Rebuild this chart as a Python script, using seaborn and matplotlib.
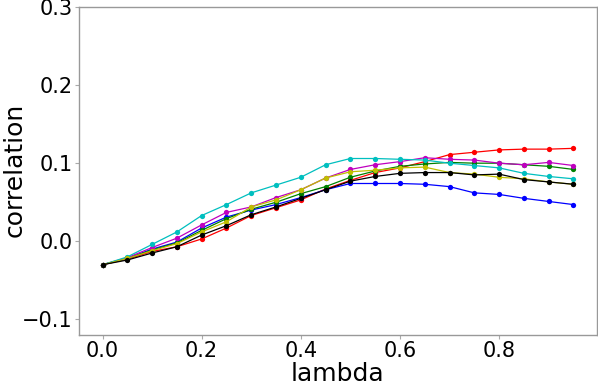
import numpy as np
import pandas as pd
import matplotlib
matplotlib.use("Agg")
import matplotlib.pyplot as plt
import seaborn as sns

lam = [0.0, 0.05, 0.10, 0.15, 0.20, 0.25, 0.30, 0.35, 0.40, 0.45,
       0.50, 0.55, 0.60, 0.65, 0.70, 0.75, 0.80, 0.85, 0.90, 0.95]

red = [-0.030, -0.023, -0.013, -0.007, 0.003, 0.017, 0.033, 0.043, 0.053, 0.067,
       0.078, 0.088, 0.094, 0.102, 0.111, 0.114, 0.117, 0.118, 0.118, 0.119]
blue = [-0.030, -0.022, -0.010, -0.001, 0.017, 0.031, 0.040, 0.047, 0.056, 0.066,
        0.074, 0.074, 0.074, 0.073, 0.070, 0.062, 0.060, 0.055, 0.051, 0.047]
green = [-0.030, -0.022, -0.011, -0.002, 0.014, 0.029, 0.041, 0.050, 0.061, 0.070,
         0.082, 0.090, 0.096, 0.099, 0.101, 0.100, 0.100, 0.098, 0.096, 0.092]
magenta = [-0.030, -0.021, -0.008, 0.004, 0.021, 0.037, 0.044, 0.056, 0.066, 0.081,
           0.092, 0.098, 0.102, 0.107, 0.105, 0.104, 0.100, 0.098, 0.101, 0.097]
cyan = [-0.030, -0.020, -0.004, 0.012, 0.033, 0.047, 0.062, 0.072, 0.082, 0.098,
        0.106, 0.106, 0.105, 0.104, 0.100, 0.097, 0.094, 0.087, 0.083, 0.080]
yellow = [-0.030, -0.022, -0.012, -0.003, 0.012, 0.025, 0.044, 0.053, 0.066, 0.081,
          0.089, 0.091, 0.094, 0.095, 0.088, 0.086, 0.082, 0.080, 0.076, 0.073]
black = [-0.030, -0.024, -0.015, -0.007, 0.008, 0.020, 0.034, 0.044, 0.055, 0.066,
         0.077, 0.083, 0.087, 0.088, 0.088, 0.085, 0.086, 0.079, 0.076, 0.073]

series = {"r": red, "b": blue, "g": green, "m": magenta, "c": cyan, "y": yellow, "k": black}
palette = {"r": "#ff0000", "b": "#0000ff", "g": "#008000", "m": "#bf00bf",
           "c": "#00bfbf", "y": "#bfbf00", "k": "#000000"}

df = pd.DataFrame([(name, x, v) for name, vals in series.items() for x, v in zip(lam, vals)],
                  columns=["series", "lambda", "correlation"])

sns.set_style("white")
plt.rcParams["font.family"] = ["DejaVu Sans"]
plt.rcParams["text.color"] = "black"
plt.rcParams["axes.labelcolor"] = "black"

fig = plt.figure(figsize=(5.98, 3.86), dpi=100)
ax = fig.add_axes([79 / 598, 1 - 335 / 386, (597 - 79) / 598, (335 - 7) / 386])

sns.lineplot(data=df, x="lambda", y="correlation", hue="series", palette=palette,
             hue_order=list(series.keys()), marker="o", markersize=3.8,
             markeredgewidth=0, linewidth=0.9, legend=False, ax=ax)

ax.set_ylim(-0.12, 0.3)
ax.set_xticks([0.0, 0.2, 0.4, 0.6, 0.8])
ax.set_yticks([-0.1, 0.0, 0.1, 0.2, 0.3])
ax.set_xlabel("lambda", fontsize=18)
ax.set_ylabel("correlation", fontsize=18)
ax.xaxis.set_label_coords(0.498, -0.083)
ax.yaxis.set_label_coords(-0.102, 0.503)
ax.tick_params(axis="both", labelsize=15, length=3, width=0.8, color="#aaaaaa",
               labelcolor="black", bottom=True, left=True, pad=1.5)
for s in ax.spines.values():
    s.set_color("#999999")
    s.set_linewidth(1)

fig.savefig("out.png", dpi=100)
